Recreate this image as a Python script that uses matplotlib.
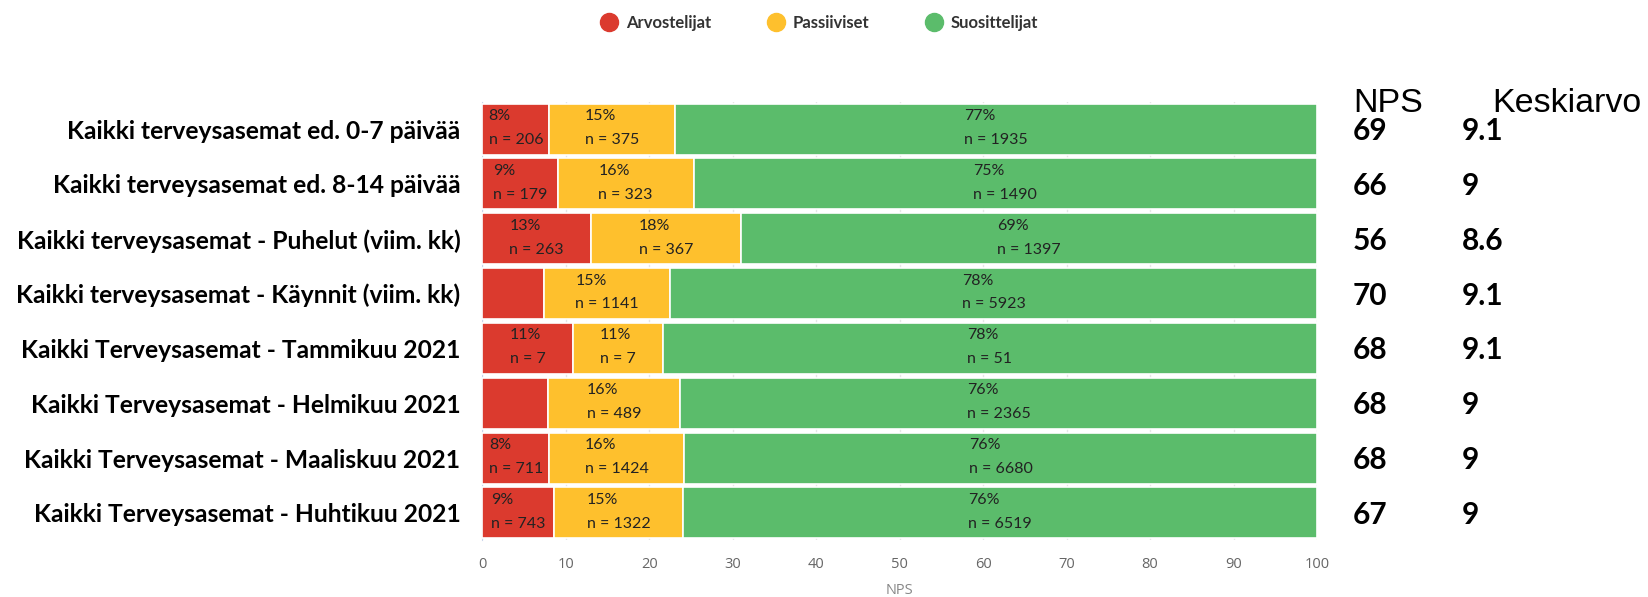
import matplotlib
matplotlib.use("Agg")
import matplotlib.pyplot as plt
from matplotlib.lines import Line2D
import numpy as np

# ------------------ Data ------------------
categories = [
    "Kaikki terveysasemat ed. 0-7 päivää",
    "Kaikki terveysasemat ed. 8-14 päivää",
    "Kaikki terveysasemat - Puhelut (viim. kk)",
    "Kaikki terveysasemat - Käynnit (viim. kk)",
    "Kaikki Terveysasemat - Tammikuu 2021",
    "Kaikki Terveysasemat - Helmikuu 2021",
    "Kaikki Terveysasemat - Maaliskuu 2021",
    "Kaikki Terveysasemat - Huhtikuu 2021",
]
red_pct = [8.0, 9.0, 13.0, 7.4, 10.8, 7.9, 8.0, 8.6]
yellow_pct = [15.1, 16.3, 18.0, 15.1, 10.8, 15.8, 16.2, 15.4]
green_pct = [76.9, 74.7, 69.0, 77.5, 78.4, 76.3, 75.8, 76.0]

red_lbl = ["8%", "9%", "13%", None, "11%", None, "8%", "9%"]
red_n = [206, 179, 263, None, 7, None, 711, 743]
yellow_lbl = ["15%", "16%", "18%", "15%", "11%", "16%", "16%", "15%"]
yellow_n = [375, 323, 367, 1141, 7, 489, 1424, 1322]
green_lbl = ["77%", "75%", "69%", "78%", "78%", "76%", "76%", "76%"]
green_n = [1935, 1490, 1397, 5923, 51, 2365, 6680, 6519]

nps_vals = ["69", "66", "56", "70", "68", "68", "68", "67"]
avg_vals = ["9.1", "9", "8.6", "9.1", "9.1", "9", "9", "9"]

series = ["Arvostelijat", "Passiiviset", "Suosittelijat"]
colors = ["#DB3A2E", "#FEC02D", "#5BBC6B"]

# ------------------ Figure ------------------
W, H = 1649, 597
fig = plt.figure(figsize=(W / 100, H / 100), dpi=100)
ax = fig.add_axes([482.5 / W, 0.0948, 834.5 / W, 0.735])

y = np.arange(len(categories))
left = np.zeros(len(categories))
seg_data = [
    (red_pct, red_lbl, red_n),
    (yellow_pct, yellow_lbl, yellow_n),
    (green_pct, green_lbl, green_n),
]
for (vals, lbls, ns), col in zip(seg_data, colors):
    vals = np.array(vals)
    ax.barh(y, vals, left=left, height=0.93, color=col,
            edgecolor="white", linewidth=1.2, zorder=3)
    for i in range(len(y)):
        if lbls[i] is None:
            continue
        ax.text(left[i] + vals[i] / 2, y[i] - 0.02, f"{lbls[i]}\nn = {ns[i]}",
                ha="center", va="center", multialignment="left",
                fontsize=11.5, family="Lato", color="#222222",
                linespacing=1.9, zorder=4)
    left = left + vals

ax.set_xlim(0, 100)
ax.set_ylim(len(categories) - 0.5, -0.5)
ax.set_xticks(np.arange(0, 101, 10))
ax.set_yticks(y)
ax.set_yticklabels(categories, fontsize=17.7, family="Lato", fontweight="bold")
ax.tick_params(axis="y", length=0, pad=16)
ax.tick_params(axis="x", length=0, pad=12, labelcolor="#666666", labelsize=10.5)
for t in ax.get_xticklabels():
    t.set_family("Open Sans")
ax.grid(axis="x", color="#e6e6e6", linewidth=1, zorder=0)
for s in ["top", "right", "bottom"]:
    ax.spines[s].set_visible(False)
ax.spines["left"].set_color("#ccd6eb")

fig.text(899.5 / W, 1 - 591 / H, "NPS", ha="center", va="center",
         fontsize=10.5, family="Open Sans", color="#888888")

# ------------------ NPS / Keskiarvo columns ------------------
fig.text(1353 / W, 1 - 112.5 / H, "NPS", ha="left", va="baseline",
         fontsize=24.5, family="Liberation Sans")
fig.text(1492 / W, 1 - 112.5 / H, "Keskiarvo", ha="left", va="baseline",
         fontsize=24.5, family="Liberation Sans")
tr = ax.get_yaxis_transform()
for i in range(len(y)):
    ax.text((1353 - 482.5) / 834.5, y[i] + 0.035, nps_vals[i], transform=tr,
            ha="left", va="center", fontsize=21.5, family="Lato",
            fontweight="bold", clip_on=False)
    ax.text((1462 - 482.5) / 834.5, y[i] + 0.035, avg_vals[i], transform=tr,
            ha="left", va="center", fontsize=21.5, family="Lato",
            fontweight="bold", clip_on=False)

# ------------------ Legend ------------------
handles = [Line2D([], [], marker="o", linestyle="none", markersize=13,
                  markerfacecolor=c, markeredgecolor=c) for c in colors]
leg = fig.legend(handles, series, loc="upper center", ncol=3,
                 bbox_to_anchor=(0.497, 1.0), frameon=False,
                 handlelength=1.0, handletextpad=0.5, columnspacing=3.4,
                 prop={"family": "Lato", "weight": "bold", "size": 12})
for t in leg.get_texts():
    t.set_color("#333333")

fig.savefig("out.png", dpi=100, facecolor="white")
